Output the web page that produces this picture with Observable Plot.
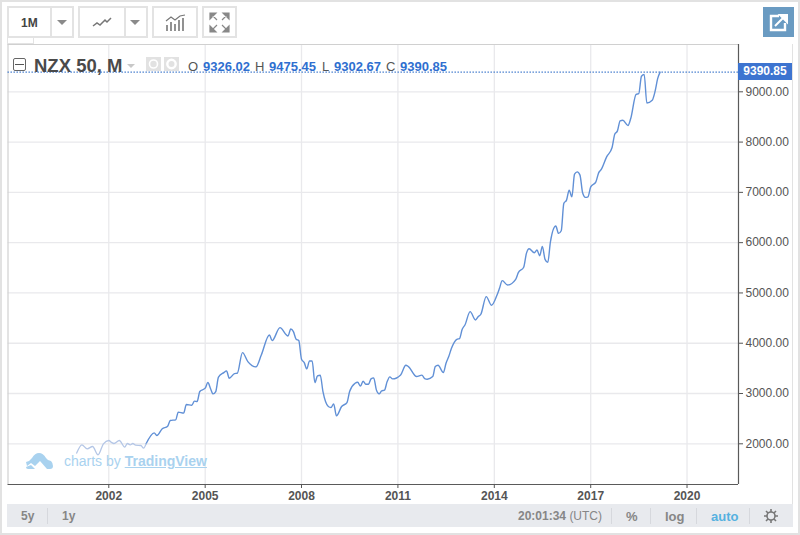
<!DOCTYPE html>
<html>
<head>
<meta charset="utf-8">
<script src="https://cdn.jsdelivr.net/npm/d3@7"></script>
<script src="https://cdn.jsdelivr.net/npm/@observablehq/plot@0.6"></script>
<style>
html,body{margin:0;padding:0;background:#fff;}
#page{position:relative;width:800px;height:535px;overflow:hidden;font-family:"Liberation Sans",Arial,sans-serif;box-sizing:border-box;}
#page svg.chart{position:absolute;left:0;top:0;}
.abs{position:absolute;white-space:nowrap;}
.frame{left:0;top:0;width:796px;height:531px;border:2px solid #e2e2e2;}
.btn{border:2px solid #e3e3e3;box-sizing:border-box;height:32px;top:6px;background:#fff;}
.div{width:2px;background:#e3e3e3;top:6px;height:32px;}
.caret{width:0;height:0;border-left:5px solid transparent;border-right:5px solid transparent;border-top:5px solid #8a8a8a;}
.val{color:#2f6fd0;font-weight:bold;font-size:13px;top:59px;}
.lab{color:#555;font-size:13px;top:59px;}
.bar{left:7px;top:504px;width:786px;height:23px;background:#e8eaee;}
.bt{top:509px;font-size:12px;color:#868686;font-weight:bold;}
.sep{top:508px;width:1px;height:16px;background:#d6d8dd;}
</style>
</head>
<body>
<div id="page"></div>
<script>
// Months counted from January 2001
const monthOffsets = [0,2,4,6,8,10,12,13,14,16,18,19,20,21,22,24,25,26,
 29,30,32,34,35,37,38,40,41,43,44,45,46,48,49,50,51,52,53,55,56,57,59,60,62,64,67,69,72,73,76,79,80,81,82,83,84,85,86,87,88,89,90,91,92,94,95,96,97,99,101,102,104,105,106,107,108,109,110,111,112,113,114,115,116,117,118,
 121,123,124,127,129,130,131,133,134,135,137,138,139,140,142,143,144,145,147,149,150,151,153,155,157,158,159,161,164,165,167,168,169,171,172,173,174,175,176,177,179,180,181,182,183,184,185,186,187,188,189,190,191,192,194,195,196,198,200,201,202,203,204,206,207,209,210,211,212,213,215,216,217,218];
const closes = [1815,1980,1900,1946,1780,2000,2066,2026,2006,2066,1934,2006,1980,2006,1974,1966,1914,2000,
 2218,2165,2298,2351,2463,2477,2630,2610,2781,2768,2848,2840,3039,3106,3218,3106,2993,3039,3325,3416,3450,3305,3396,3403,3813,3635,3529,3767,4165,4052,4310,4145,4284,4231,4079,4052,3682,3615,3490,3648,3648,3218,3351,3364,3039,2741,2721,2794,2556,2741,2820,3039,3205,3225,3146,3245,3185,3185,3291,3311,3072,2993,3053,3066,3237,3331,3291,
 3370,3563,3535,3337,3365,3297,3285,3337,3535,3563,3416,3603,3734,3900,4079,4092,4278,4363,4628,4463,4528,4576,4926,4755,4959,5092,5244,5158,5271,5403,5510,5787,5880,5800,5853,5740,5926,5668,5608,6017,6330,6184,6236,6780,6846,7045,6912,7362,7408,7343,6991,6900,6912,7110,7210,7388,7456,7706,7892,8157,8223,8421,8435,8330,8469,8951,8964,9310,9345,8778,8832,8997,9262,9390.85];
const yearTicks = [2002,2005,2008,2011,2014,2017,2020];
const priceTicks = [2000,3000,4000,5000,6000,7000,8000,9000];
const lastPrice = 9390.85;
const fadedUntil = 26; // the part of the line under the watermark

const series = monthOffsets.map((m,i)=>({date:new Date(Date.UTC(2001,m,1)),value:closes[i],m}));
const tickDates = yearTicks.map(y=>new Date(Date.UTC(y,0,1)));
const yearFrac = y => new Date(Date.UTC(Math.floor(y),0,1)+(y-Math.floor(y))*365.25*864e5);
const xDomain = [yearFrac(1998.863),yearFrac(2021.6)];
const yDomain = [1190.6,9940.6];

const chart = Plot.plot({
  width:800,height:535,
  marginLeft:7.5,marginRight:62,marginTop:44,marginBottom:51,
  x:{type:"utc",domain:xDomain},
  y:{type:"linear",domain:yDomain},
  style:{background:"transparent",fontFamily:"'Liberation Sans',Arial,sans-serif"},
  marks:[
    Plot.ruleX(tickDates,{stroke:"#e9e9ec",strokeWidth:1.3}),
    Plot.ruleY(priceTicks,{stroke:"#e9e9ec",strokeWidth:1.3}),
    Plot.ruleY([yDomain[1]],{stroke:"#d0d0d0",strokeWidth:1.2}),
    Plot.ruleX([xDomain[0]],{stroke:"#d0d0d0",strokeWidth:1.2}),
    Plot.ruleY([yDomain[0]],{stroke:"#5a5a5a",strokeWidth:1.2}),
    Plot.ruleX([xDomain[1]],{stroke:"#5a5a5a",strokeWidth:1.2}),
    Plot.ruleY([lastPrice],{stroke:"#3f78cc",strokeWidth:1.2,strokeDasharray:"1.4 1.6"}),
    Plot.line(series.filter(d=>d.m>=fadedUntil),{x:"date",y:"value",stroke:"#6190d6",strokeWidth:1.4,curve:"monotone-x"}),
    Plot.line(series.filter(d=>d.m<=fadedUntil),{x:"date",y:"value",stroke:"#b4c6e6",strokeWidth:1.3,curve:"monotone-x"}),
    Plot.axisX({ticks:tickDates,tickFormat:d3.utcFormat("%Y"),tickSize:4,tickPadding:3,fontSize:12,fontWeight:"bold",fill:"#555",label:null,stroke:"#555"}),
    Plot.axisY({anchor:"right",ticks:priceTicks,tickFormat:d3.format(".2f"),tickSize:4,tickPadding:3,fontSize:12,fill:"#555",label:null,stroke:"#555"})
  ]
});
chart.classList.add("chart");
chart.querySelectorAll("g[aria-label='x-axis tick label'] text").forEach(t=>t.setAttribute("font-weight","bold"));
const page=document.getElementById("page");
page.appendChild(chart);

const overlay=`
<div class="abs frame"></div>
<div class="abs" style="left:792px;top:44px;width:1px;height:460px;background:#e2e2e2"></div>
<div class="abs btn" style="left:7px;width:67px"></div><div class="abs div" style="left:50px"></div>
<div class="abs" style="left:21px;top:16px;font-size:12px;font-weight:bold;color:#444">1M</div>
<div class="abs caret" style="left:57px;top:20px"></div>
<div class="abs btn" style="left:78px;width:70px"></div><div class="abs div" style="left:124px"></div>
<svg class="abs" style="left:92px;top:16px" width="20" height="12"><path d="M1 10L5 7L8 9L13 4L15 6L19 2" fill="none" stroke="#777" stroke-width="1.5"/></svg>
<div class="abs caret" style="left:130px;top:20px"></div>
<div class="abs btn" style="left:152px;width:46px"></div>
<svg class="abs" style="left:165px;top:14px" width="21" height="18"><path d="M1 7L6 3L10 6L15 2L20 1" fill="none" stroke="#777" stroke-width="1.2"/><path d="M2 17V11M6 17V8M10 17V10M14 17V6M18 17V4" stroke="#777" stroke-width="1.6"/></svg>
<div class="abs btn" style="left:202px;width:35px"></div>
<svg class="abs" style="left:209px;top:12px" width="21" height="21"><path d="M1 7V1H7L1 7ZM20 7V1H14L20 7ZM1 14V20H7L1 14ZM20 14V20H14L20 14ZM3 3L8 8M18 3L13 8M3 18L8 13M18 18L13 13" fill="#888" stroke="#888" stroke-width="1.2"/></svg>
<div class="abs" style="left:763px;top:7px;width:31px;height:30px;background:#6a9bc2"></div>
<svg class="abs" style="left:769px;top:13px" width="20" height="19"><path d="M10 3H2V17H16V10" fill="none" stroke="#fff" stroke-width="2.4"/><path d="M6 13L15 4M11 2H18V9Z" fill="#fff" stroke="#fff" stroke-width="2"/></svg>
<div class="abs" style="left:7px;top:38px;width:27px;height:6px;border:1px solid #e3e3e3;border-top:none;box-sizing:border-box;background:#fff"></div>

<div class="abs" style="left:13px;top:58px;width:13px;height:13px;border:1px solid #666;box-sizing:border-box;border-radius:2px"></div>
<div class="abs" style="left:15px;top:64px;width:9px;height:1px;background:#555"></div>
<div class="abs" style="left:34px;top:55px;font-size:18.5px;font-weight:bold;color:#4a4a4a">NZX 50, M</div>
<div class="abs" style="left:127px;top:64px;width:0;height:0;border-left:4px solid transparent;border-right:4px solid transparent;border-top:4px solid #c8c8c8"></div>
<div class="abs" style="left:146px;top:57px;width:15px;height:14px;background:#e2e2e2"></div>
<div class="abs" style="left:164px;top:57px;width:15px;height:14px;background:#e2e2e2"></div>
<svg class="abs" style="left:146px;top:57px" width="34" height="14"><circle cx="7.5" cy="7" r="4" fill="none" stroke="#fff" stroke-width="1.6"/><circle cx="25.5" cy="7" r="4.2" fill="none" stroke="#fff" stroke-width="2.4"/></svg>
<div class="abs lab" style="left:188px">O</div><div class="abs val" style="left:203px">9326.02</div>
<div class="abs lab" style="left:255px">H</div><div class="abs val" style="left:269px">9475.45</div>
<div class="abs lab" style="left:322px">L</div><div class="abs val" style="left:334px">9302.67</div>
<div class="abs lab" style="left:386px">C</div><div class="abs val" style="left:400px">9390.85</div>

<div class="abs" style="left:738px;top:63px;width:54px;height:17px;background:#3d74d0"></div>
<div class="abs" style="left:738px;top:64px;width:54px;text-align:center;font-size:12px;font-weight:bold;color:#fff">9390.85</div>

<svg class="abs" style="left:25px;top:452px" width="29" height="18"><path d="M1 10Q5 9 7 6Q10 1 14 1Q18 1 21 6Q23 9 26 9Q28 11 28 14Q28 17 25 17H22L15 9L10 14L6 11L2 14Z" fill="#a9d2ef"/><path d="M1 15L6 13L10 17H3Q1 17 1 15Z" fill="#a9d2ef"/></svg>
<div class="abs" style="left:64px;top:453px;font-size:14px;color:#a9d2ef">charts by <span style="font-weight:bold;text-decoration:underline">TradingView</span></div>

<div class="abs bar"></div>
<div class="abs bt" style="left:21px">5y</div><div class="abs sep" style="left:47px"></div><div class="abs bt" style="left:62px">1y</div>
<div class="abs bt" style="left:518px">20:01:34 <span style="font-weight:normal">(UTC)</span></div>
<div class="abs sep" style="left:611px"></div><div class="abs bt" style="left:626px;font-size:13px">%</div>
<div class="abs sep" style="left:650px"></div><div class="abs bt" style="left:665px;font-size:13px">log</div>
<div class="abs sep" style="left:696px"></div><div class="abs bt" style="left:711px;color:#56b1e0;font-size:13px">auto</div>
<div class="abs sep" style="left:749px"></div>
<svg class="abs" style="left:764px;top:509px" width="14" height="14"><circle cx="7" cy="7" r="4" fill="none" stroke="#777" stroke-width="1.6"/><path d="M7 0V3M7 11V14M0 7H3M11 7H14M2 2L4 4M10 10L12 12M12 2L10 4M4 10L2 12" stroke="#777" stroke-width="1.6"/></svg>
`;
const holder=document.createElement("div");
holder.innerHTML=overlay;
while(holder.firstChild) page.appendChild(holder.firstChild);
</script>
</body>
</html>
